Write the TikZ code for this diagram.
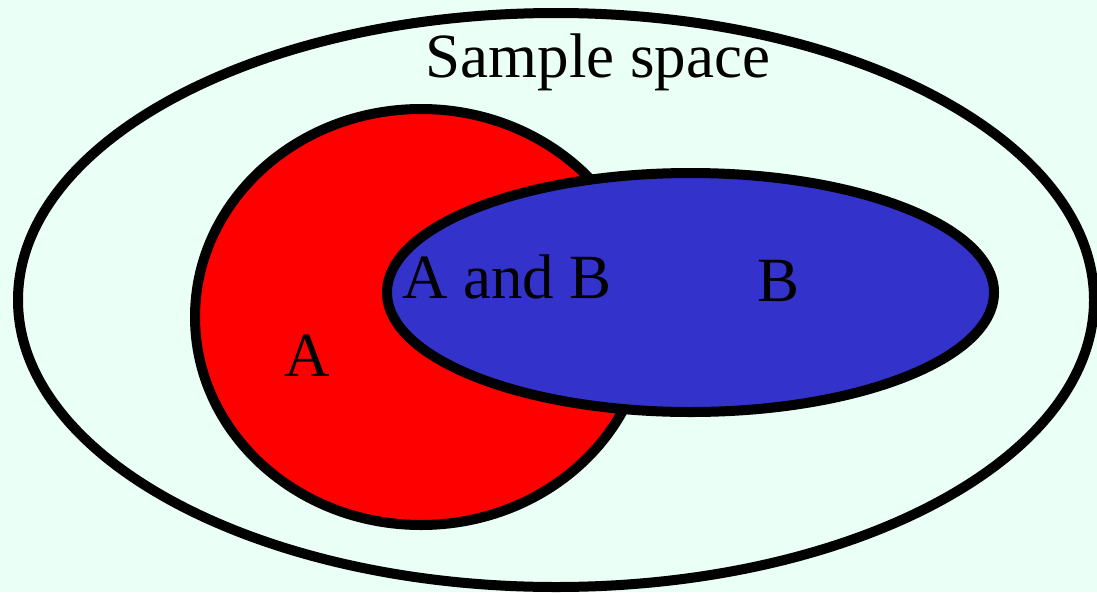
\documentclass[tikz,border=0pt]{standalone}
\usepackage{fontspec}
\setmainfont{Liberation Serif}
\newfontfamily\timesfam{Liberation Serif}
\definecolor{bgmint}{HTML}{EAFFF5}
\definecolor{setred}{HTML}{FF0000}
\definecolor{setblue}{HTML}{3333CC}
\tikzset{
  setline/.style={draw=black, line width=10pt},
  biglabel/.style={inner sep=0pt, anchor=base, font=\timesfam\fontsize{63}{63}\selectfont},
}
\begin{document}
\begin{tikzpicture}[x=1pt,y=-1pt]
\fill[bgmint] (0,0) rectangle (1097,592);
\useasboundingbox (0,0) rectangle (1097,592);
\begin{scope}
\clip (0,0) rectangle (1097,592);
\draw[setline, fill=bgmint] (556,300) ellipse [x radius=538, y radius=287];
\draw[setline, fill=setred] (421,317) ellipse [x radius=226, y radius=208];
\draw[setline, fill=setblue] (690.5,292.5) ellipse [x radius=303.5, y radius=119.5];
\end{scope}
\node[biglabel] (sample) at (598,77) {Sample space};
\node[biglabel] (ab) at (507,298) {A and B};
\node[biglabel] (b) at (778.5,301) {B};
\node[biglabel] (a) at (307,376) {A};
\end{tikzpicture}
\end{document}
